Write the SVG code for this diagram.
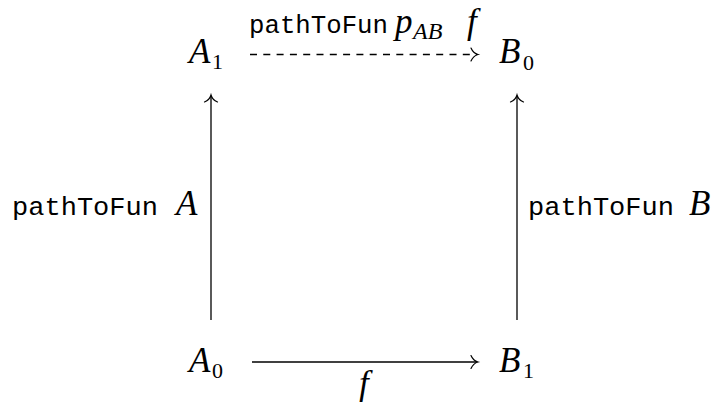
<svg xmlns="http://www.w3.org/2000/svg" width="718" height="402" viewBox="0 0 718 402">
<style>
.m{font-family:"Liberation Serif","Times New Roman",serif;font-style:italic;font-size:35px;fill:#000}
.s{font-family:"Liberation Serif","Times New Roman",serif;font-size:22px;fill:#000}
.si{font-family:"Liberation Serif","Times New Roman",serif;font-style:italic;font-size:24px;fill:#000}
.tt{font-family:"Liberation Mono","Courier New",monospace;font-size:26px;fill:#000}
.ln{stroke:#000;stroke-width:1.3;fill:none}
.hd{stroke:#000;stroke-width:1.2;fill:none;stroke-linecap:round}
</style>
<rect width="718" height="402" fill="#fff"/>
<g id="A1"><text class="m" x="189" y="63">A</text><text class="s" x="212" y="69">1</text></g>
<g id="B0"><text class="m" x="499" y="63">B</text><text class="s" x="523" y="70">0</text></g>
<g id="A0"><text class="m" x="189" y="372">A</text><text class="s" x="212" y="378">0</text></g>
<g id="B1"><text class="m" x="499" y="372">B</text><text class="s" x="523" y="378">1</text></g>
<g id="connectors">
  <g id="top">
    <line class="ln" x1="250" y1="54.5" x2="477" y2="54.5" stroke-dasharray="7 6.3"/>
    <path class="hd" d="M471,48 C472.5,51.5 475.5,53.8 478,54.5 C475.5,55.2 472.5,57.5 471,61"/>
    <text class="tt" x="249" y="33" textLength="139" lengthAdjust="spacingAndGlyphs">pathToFun</text>
    <text class="m" x="395" y="33">p</text><text class="si" x="413" y="39">AB</text>
    <text class="m" x="467" y="33">f</text>
  </g>
  <g id="bottom">
    <line class="ln" x1="252" y1="362" x2="477" y2="362"/>
    <path class="hd" d="M471,355.5 C472.5,359 475.5,361.3 478,362 C475.5,362.7 472.5,365 471,368.5"/>
    <text class="m" x="359" y="395">f</text>
  </g>
  <g id="left">
    <line class="ln" x1="211" y1="320" x2="211" y2="96"/>
    <path class="hd" d="M204.5,102 C208,100.5 210.3,97.5 211,95 C211.7,97.5 214,100.5 217.5,102"/>
    <text class="tt" x="12" y="215" textLength="146" lengthAdjust="spacingAndGlyphs">pathToFun</text>
    <text class="m" x="176" y="215">A</text>
  </g>
  <g id="right">
    <line class="ln" x1="517" y1="320" x2="517" y2="96"/>
    <path class="hd" d="M510.5,102 C514,100.5 516.3,97.5 517,95 C517.7,97.5 520,100.5 523.5,102"/>
    <text class="tt" x="528" y="215" textLength="146" lengthAdjust="spacingAndGlyphs">pathToFun</text>
    <text class="m" x="689" y="215">B</text>
  </g>
</g>
</svg>
